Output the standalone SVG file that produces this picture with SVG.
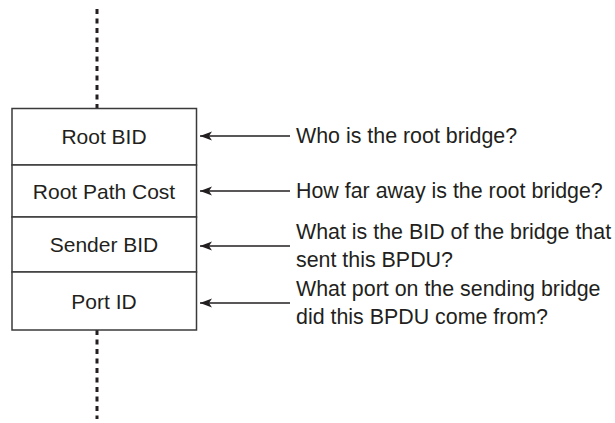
<svg xmlns="http://www.w3.org/2000/svg" width="615" height="423" viewBox="0 0 615 423">
<style>
text{font-family:"Liberation Sans",Arial,sans-serif;font-size:21px;fill:#231f20}
.q{font-size:21.4px}
.c{text-anchor:middle}
.cell{fill:#fff;stroke:#3a3a3a;stroke-width:1.5}
.dash{stroke:#231f20;stroke-width:3;stroke-dasharray:5 4.5;fill:none}
.arr{stroke:#231f20;stroke-width:1.4;fill:none;marker-end:url(#ah)}
</style>
<defs>
<marker id="ah" markerUnits="userSpaceOnUse" markerWidth="13" markerHeight="10" refX="12" refY="5" orient="auto">
<path d="M0,0.5 L12,5 L0,9.5 L3,5 Z" fill="#231f20"/>
</marker>
</defs>
<g id="connectors">
<line class="dash" x1="97" y1="9" x2="97" y2="108"/>
<line class="dash" x1="97" y1="330" x2="97" y2="419"/>
<line class="arr" x1="290" y1="136" x2="200" y2="136"/>
<line class="arr" x1="290" y1="191" x2="200" y2="191"/>
<line class="arr" x1="290" y1="246" x2="200" y2="246"/>
<line class="arr" x1="290" y1="303" x2="200" y2="303"/>
</g>
<g id="root-bid">
<rect class="cell" x="12" y="108.5" width="184.5" height="56.5"/>
<text class="c" x="104" y="144">Root BID</text>
</g>
<g id="root-path-cost">
<rect class="cell" x="12" y="165" width="184.5" height="52"/>
<text class="c" x="104" y="198.5">Root Path Cost</text>
</g>
<g id="sender-bid">
<rect class="cell" x="12" y="217" width="184.5" height="55"/>
<text class="c" x="104" y="252">Sender BID</text>
</g>
<g id="port-id">
<rect class="cell" x="12" y="272" width="184.5" height="58"/>
<text class="c" x="104" y="308.5">Port ID</text>
</g>
<g id="q1"><text class="q" x="296" y="143">Who is the root bridge?</text></g>
<g id="q2"><text class="q" x="296" y="198">How far away is the root bridge?</text></g>
<g id="q3"><text class="q" x="296" y="239">What is the BID of the bridge that</text><text class="q" x="296" y="267">sent this BPDU?</text></g>
<g id="q4"><text class="q" x="296" y="296">What port on the sending bridge</text><text class="q" x="296" y="324">did this BPDU come from?</text></g>
</svg>
